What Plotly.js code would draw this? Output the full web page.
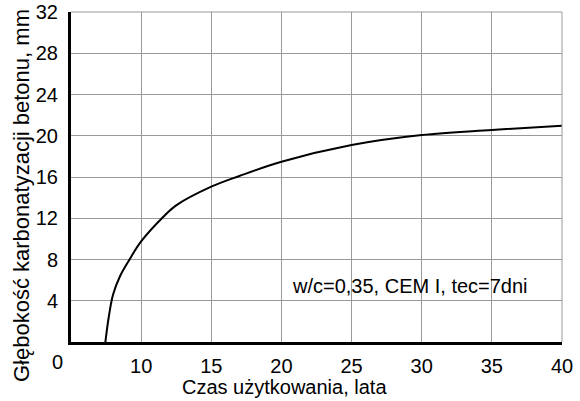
<!DOCTYPE html>
<html>
<head>
<meta charset="utf-8">
<script src="https://cdn.plot.ly/plotly-3.0.1.min.js"></script>
<style>html,body{margin:0;padding:0;background:#fff;}#chart{width:580px;height:401px;}</style>
</head>
<body>
<div id="chart"></div>
<script>
// Data
const years = [7.45, 7.7, 8.0, 8.5, 9.17, 10, 11.48, 12.5, 15, 17, 20, 25, 30, 35, 40];
const depth = [0, 2.5, 4.6, 6.4, 8, 9.75, 12, 13.25, 15.06, 16.1, 17.48, 19.1, 20.07, 20.56, 20.98];
const xTicks = [10, 15, 20, 25, 30, 35, 40];
const yTicks = [4, 8, 12, 16, 20, 24, 28, 32];
const xTitle = "Czas użytkowania, lata";
const yTitle = "Głębokość karbonatyzacji betonu, mm";
const note = "w/c=0,35, CEM I, tec=7dni";

const font = {family: "Liberation Sans, Arial, sans-serif", size: 20, color: "#000"};
const yTitleFont = {family: "Liberation Sans, Arial, sans-serif", size: 22, color: "#000"};

const trace = {
  x: years, y: depth, type: "scatter", mode: "lines",
  line: {color: "#000", width: 2, shape: "spline", smoothing: 1},
  hoverinfo: "skip"
};

const layout = {
  width: 580, height: 401,
  margin: {l: 71, r: 18, t: 12, b: 59},
  paper_bgcolor: "#fff", plot_bgcolor: "#fff",
  showlegend: false,
  font: font,
  xaxis: {
    range: [5, 40], tickvals: xTicks, ticktext: xTicks.map(String),
    showgrid: true, gridcolor: "#999", gridwidth: 1,
    showline: true, linecolor: "#000", linewidth: 3,
    ticks: "", zeroline: false, ticklabelstandoff: 4,
    tickfont: font
  },
  yaxis: {
    range: [0, 32], tickvals: yTicks, ticktext: yTicks.map(String),
    showgrid: true, gridcolor: "#999", gridwidth: 1,
    showline: true, linecolor: "#000", linewidth: 3,
    ticks: "", zeroline: false, ticklabelstandoff: 6,
    tickfont: font
  },
  shapes: [
    {type: "line", xref: "paper", yref: "paper", x0: 0, x1: 1, y0: 1, y1: 1, line: {color: "#999", width: 1}},
    {type: "line", xref: "paper", yref: "paper", x0: 1, x1: 1, y0: 0, y1: 1, line: {color: "#999", width: 1}}
  ],
  annotations: [
    {text: note, x: 20.64, y: 5.43, xref: "x", yref: "y", xanchor: "left", yanchor: "middle", showarrow: false, font: font},
    {text: "0", xref: "paper", yref: "paper", showarrow: false, font: font},
    {text: xTitle, xref: "paper", yref: "paper", showarrow: false, font: font},
    {text: yTitle, xref: "paper", yref: "paper", showarrow: false, textangle: -90, font: yTitleFont}
  ]
};

// convert pixel positions to paper coordinates for the free annotations
function px2paper(px, py) {
  const w = 580 - 71 - 18, h = 401 - 12 - 59;
  return {x: (px - 71) / w, y: (342 - py) / h};
}
function place(a, px, py) {
  const p = px2paper(px, py);
  a.x = p.x; a.y = p.y; a.xanchor = "center"; a.yanchor = "middle";
}
place(layout.annotations[1], 57, 362);
place(layout.annotations[2], 284, 387);
place(layout.annotations[3], 21, 196);

Plotly.newPlot("chart", [trace], layout, {displayModeBar: false, staticPlot: true});
</script>
</body>
</html>
